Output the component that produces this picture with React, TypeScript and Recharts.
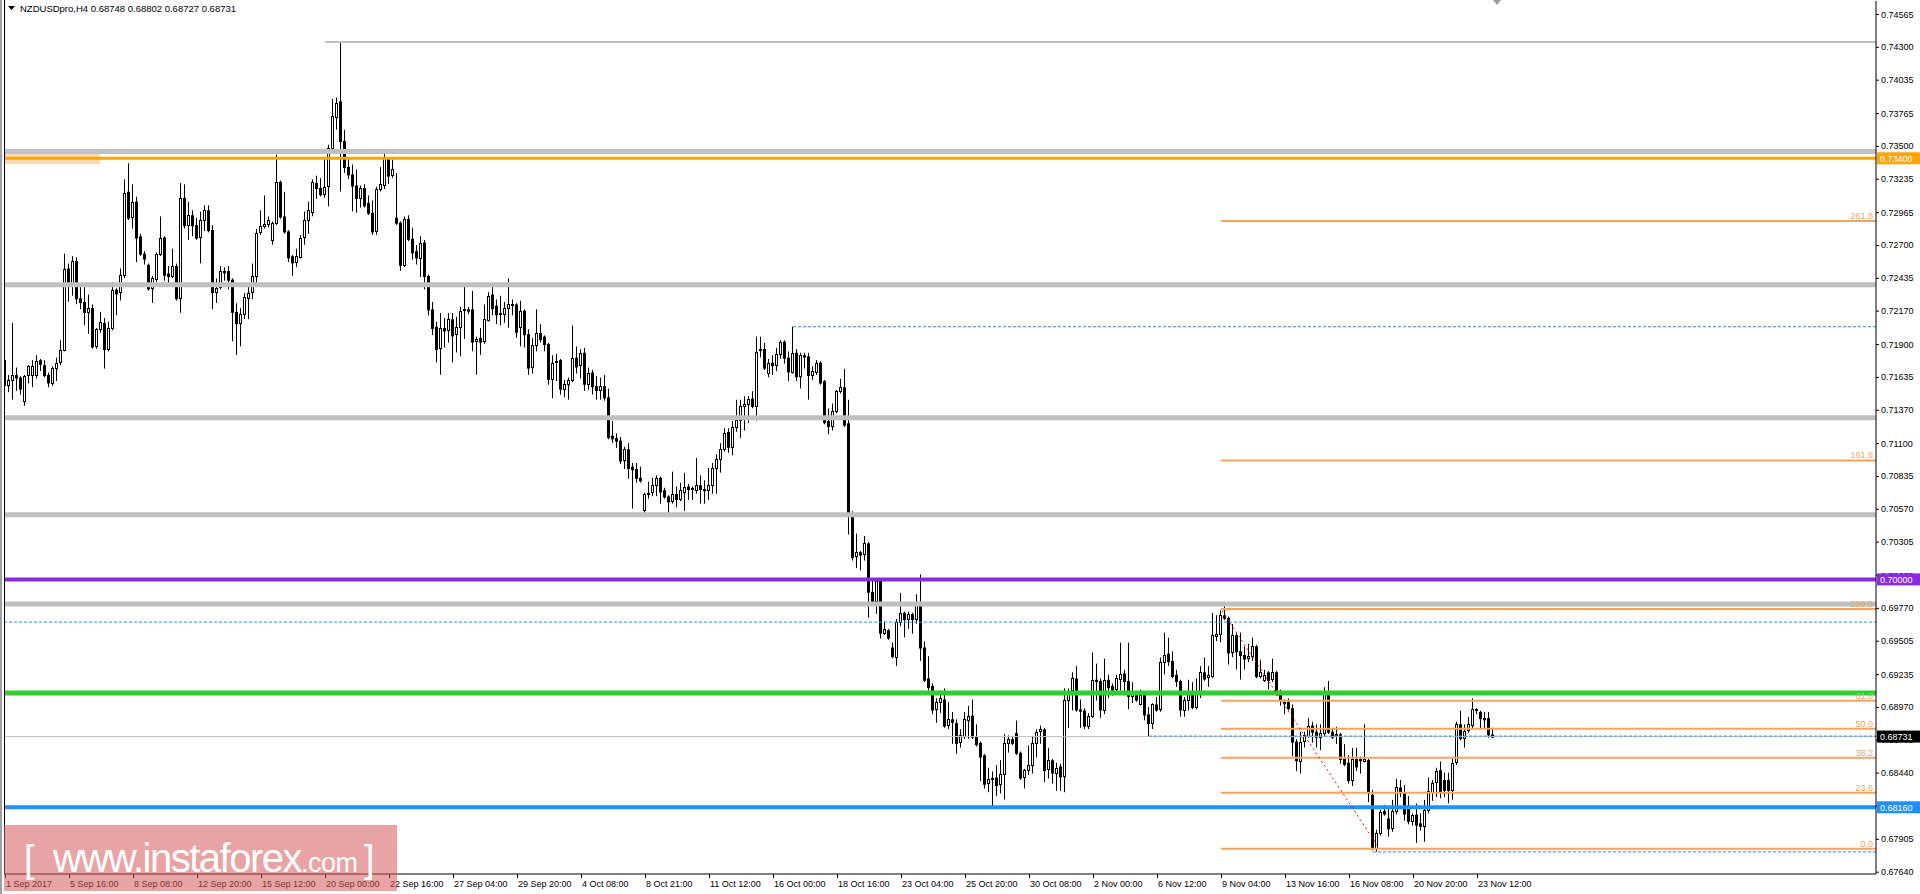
import React from "react";
import {
  Bar,
  ComposedChart,
  ReferenceArea,
  ReferenceLine,
  XAxis,
  YAxis,
} from "recharts";

const FONT = "'Liberation Sans', Arial, sans-serif";
const PLOT_B = 874;
const AXIS_X = 1876;

const symbolTitle = "NZDUSDpro,H4";
const lastQuote = ["0.68748", "0.68802", "0.68727", "0.68731"];

// H4 bars, [open, high, low, close]
const sepCandles = [
  [0.7177, 0.718, 0.715, 0.7157], [0.7157, 0.7165, 0.7152, 0.7161], [0.7161, 0.7207, 0.7146, 0.7165],
  [0.7165, 0.7171, 0.7153, 0.7163], [0.7163, 0.7164, 0.715, 0.7154], [0.7144, 0.7165, 0.7141, 0.7164],
  [0.7165, 0.7173, 0.7159, 0.7172], [0.7165, 0.7177, 0.7156, 0.7172], [0.7165, 0.7181, 0.7163, 0.7176],
  [0.7177, 0.7178, 0.7169, 0.7174], [0.7173, 0.7177, 0.7164, 0.7165], [0.7165, 0.7167, 0.7156, 0.7159],
  [0.7159, 0.7172, 0.7157, 0.7171], [0.7171, 0.7179, 0.7161, 0.7175], [0.7175, 0.7193, 0.7174, 0.7185],
  [0.7186, 0.7263, 0.7185, 0.7251], [0.7251, 0.7255, 0.7225, 0.7239], [0.7239, 0.7261, 0.723, 0.7257],
  [0.7257, 0.726, 0.7223, 0.7227], [0.7227, 0.7236, 0.7219, 0.7224], [0.7224, 0.7236, 0.7206, 0.7216],
  [0.7216, 0.723, 0.7199, 0.7219], [0.7219, 0.7222, 0.7187, 0.7188], [0.7188, 0.7203, 0.7187, 0.7202],
  [0.7202, 0.7216, 0.72, 0.7208], [0.7207, 0.7211, 0.7171, 0.7186], [0.7186, 0.7208, 0.7185, 0.7203],
  [0.7203, 0.724, 0.7202, 0.7234], [0.7234, 0.7235, 0.7214, 0.7231], [0.7232, 0.7251, 0.7226, 0.7246],
  [0.7246, 0.7323, 0.7244, 0.7312], [0.7313, 0.7336, 0.7291, 0.7292], [0.7293, 0.7319, 0.7284, 0.7305],
  [0.7305, 0.7309, 0.7257, 0.7276], [0.7277, 0.7279, 0.7262, 0.7263], [0.7263, 0.7265, 0.7255, 0.7259],
  [0.7254, 0.7255, 0.7234, 0.7235], [0.7235, 0.7245, 0.7224, 0.7243], [0.7243, 0.7264, 0.7241, 0.7263],
  [0.7263, 0.7293, 0.7262, 0.7276], [0.7276, 0.7277, 0.7242, 0.7246], [0.7247, 0.7253, 0.7238, 0.7245],
  [0.7245, 0.7267, 0.7244, 0.7253], [0.7253, 0.7255, 0.7226, 0.7227], [0.7227, 0.732, 0.7216, 0.7308],
  [0.7308, 0.7319, 0.7284, 0.7286], [0.7286, 0.7305, 0.7275, 0.7294], [0.7294, 0.7298, 0.7278, 0.7286],
  [0.7286, 0.7292, 0.7275, 0.7276], [0.7276, 0.7297, 0.7256, 0.729], [0.729, 0.7302, 0.7282, 0.7298],
  [0.7298, 0.7302, 0.7281, 0.7282], [0.7282, 0.7286, 0.7219, 0.7232], [0.7232, 0.7243, 0.7224, 0.7235],
  [0.7236, 0.7253, 0.7235, 0.7249], [0.7249, 0.7252, 0.7242, 0.7248], [0.7249, 0.7253, 0.7235, 0.7242],
  [0.7242, 0.7243, 0.7193, 0.7216], [0.7216, 0.7223, 0.7182, 0.7207], [0.7207, 0.7219, 0.7189, 0.7214],
  [0.7214, 0.7231, 0.7211, 0.7228], [0.7227, 0.7239, 0.7211, 0.7231], [0.7232, 0.7255, 0.7227, 0.7245],
  [0.7245, 0.7283, 0.724, 0.728], [0.728, 0.7298, 0.7279, 0.7285], [0.7285, 0.731, 0.7284, 0.7287],
  [0.7287, 0.7293, 0.7285, 0.729], [0.7274, 0.7289, 0.7271, 0.7288], [0.7288, 0.7343, 0.7287, 0.7321],
  [0.7321, 0.7322, 0.7292, 0.7293], [0.7293, 0.7313, 0.728, 0.7281], [0.7281, 0.7282, 0.7257, 0.726],
  [0.7261, 0.7262, 0.7246, 0.7256], [0.7256, 0.7267, 0.7253, 0.7261], [0.7261, 0.7278, 0.726, 0.7276],
  [0.7276, 0.7297, 0.7271, 0.729], [0.729, 0.7305, 0.728, 0.7298], [0.7297, 0.7323, 0.7294, 0.7321],
  [0.732, 0.7326, 0.7308, 0.7316], [0.7316, 0.7324, 0.731, 0.7311], [0.7311, 0.7341, 0.7309, 0.7317],
  [0.7317, 0.7351, 0.7302, 0.7348], [0.7348, 0.7388, 0.7345, 0.7374], [0.7374, 0.7389, 0.7364, 0.7385],
  [0.7386, 0.7434, 0.7314, 0.7354], [0.7354, 0.7363, 0.7329, 0.7333], [0.7333, 0.734, 0.7324, 0.7327],
  [0.7327, 0.7335, 0.7298, 0.7318], [0.7318, 0.7331, 0.7297, 0.7308], [0.7308, 0.7318, 0.7301, 0.7316],
  [0.7316, 0.7319, 0.7301, 0.7302], [0.7304, 0.731, 0.7295, 0.7296], [0.7296, 0.7306, 0.7279, 0.7281],
  [0.7281, 0.7317, 0.7279, 0.7315], [0.7315, 0.7333, 0.7314, 0.7319], [0.7318, 0.7344, 0.7316, 0.734],
  [0.734, 0.7341, 0.732, 0.7326], [0.7326, 0.7339, 0.7325, 0.7331], [0.7292, 0.7328, 0.7287, 0.7288],
  [0.7288, 0.7289, 0.725, 0.7254], [0.7254, 0.7293, 0.7253, 0.7291], [0.7291, 0.7294, 0.7274, 0.7275],
  [0.7275, 0.7284, 0.7259, 0.7264], [0.7265, 0.727, 0.7255, 0.726], [0.726, 0.7277, 0.7245, 0.7272],
  [0.7272, 0.7274, 0.7235, 0.7245], [0.7245, 0.7246, 0.7214, 0.7218], [0.7218, 0.7224, 0.7198, 0.7203],
  [0.7204, 0.7208, 0.7176, 0.7186], [0.7187, 0.7215, 0.7166, 0.7203], [0.7203, 0.7211, 0.7188, 0.7201],
  [0.7201, 0.7215, 0.7192, 0.721], [0.721, 0.7215, 0.7176, 0.7197], [0.7198, 0.7212, 0.7184, 0.7204],
  [0.7204, 0.722, 0.7181, 0.7217], [0.7217, 0.7238, 0.7195, 0.7218], [0.7218, 0.722, 0.7215, 0.7217],
  [0.7218, 0.7233, 0.7185, 0.7192], [0.7192, 0.7196, 0.7166, 0.7194], [0.7195, 0.7203, 0.7182, 0.7192],
  [0.7192, 0.7222, 0.7191, 0.721], [0.721, 0.7232, 0.7209, 0.7229], [0.723, 0.7238, 0.7214, 0.7219],
  [0.7221, 0.7226, 0.7207, 0.7214], [0.7214, 0.7229, 0.7206, 0.7215], [0.7214, 0.7224, 0.7208, 0.7219],
  [0.7219, 0.7243, 0.7204, 0.7222], [0.7221, 0.7226, 0.7214, 0.7222], [0.7222, 0.7223, 0.7196, 0.72],
];

const octCandles = [
  [0.7204, 0.7225, 0.7189, 0.7217], [0.7217, 0.7218, 0.7188, 0.7198], [0.7198, 0.7202, 0.7166, 0.7171],
  [0.7171, 0.7195, 0.7167, 0.7189], [0.7189, 0.7218, 0.7185, 0.7199], [0.7199, 0.7206, 0.7192, 0.7194],
  [0.7196, 0.7197, 0.7185, 0.719], [0.719, 0.7191, 0.7158, 0.7162], [0.7162, 0.7181, 0.7147, 0.7175],
  [0.7175, 0.7182, 0.7161, 0.7176], [0.7177, 0.7178, 0.715, 0.7154], [0.7154, 0.7161, 0.7148, 0.7158],
  [0.7158, 0.7163, 0.7146, 0.7161], [0.7161, 0.7205, 0.716, 0.7179], [0.7179, 0.7188, 0.7167, 0.7172],
  [0.7173, 0.7186, 0.7163, 0.7183], [0.7183, 0.7187, 0.7153, 0.7158], [0.7158, 0.7171, 0.7154, 0.7167],
  [0.7167, 0.7169, 0.715, 0.7156], [0.7156, 0.7164, 0.7146, 0.7153], [0.7153, 0.7163, 0.7146, 0.7156],
  [0.7156, 0.7165, 0.7145, 0.7147], [0.7147, 0.7154, 0.7114, 0.7115], [0.7116, 0.7128, 0.7111, 0.7114],
  [0.7114, 0.7118, 0.7107, 0.7112], [0.7112, 0.7115, 0.7094, 0.7096], [0.7096, 0.7107, 0.709, 0.7105],
  [0.7105, 0.711, 0.7082, 0.709], [0.7091, 0.7094, 0.7058, 0.7089], [0.7089, 0.7094, 0.7079, 0.7082],
  [0.7082, 0.7091, 0.7079, 0.708], [0.7056, 0.707, 0.7054, 0.7069], [0.7069, 0.7079, 0.7066, 0.707],
  [0.707, 0.7082, 0.7068, 0.7076], [0.7076, 0.7084, 0.7068, 0.7082], [0.7082, 0.7083, 0.7062, 0.7071],
  [0.7072, 0.7074, 0.7066, 0.7067], [0.7067, 0.7068, 0.7054, 0.7063], [0.7063, 0.7087, 0.7062, 0.7069],
  [0.7069, 0.7075, 0.7059, 0.7065], [0.7065, 0.7078, 0.7064, 0.7072], [0.7071, 0.7086, 0.7056, 0.7075],
  [0.7075, 0.7077, 0.7065, 0.7073], [0.7073, 0.7075, 0.7065, 0.7074], [0.7072, 0.7098, 0.707, 0.7076],
  [0.7076, 0.7084, 0.7062, 0.7073], [0.7073, 0.708, 0.7062, 0.7072], [0.7072, 0.709, 0.7065, 0.7076],
  [0.7076, 0.7094, 0.707, 0.709], [0.709, 0.7101, 0.707, 0.7097], [0.7097, 0.711, 0.7087, 0.7105],
  [0.7105, 0.7122, 0.7104, 0.7118], [0.7119, 0.7122, 0.7103, 0.7107], [0.7107, 0.7128, 0.7101, 0.7123],
  [0.7123, 0.7145, 0.712, 0.7129], [0.7129, 0.7145, 0.7115, 0.714], [0.714, 0.7148, 0.7121, 0.7142],
  [0.7142, 0.7148, 0.7127, 0.7146], [0.7146, 0.7152, 0.7139, 0.714], [0.714, 0.7196, 0.7129, 0.7184],
  [0.7185, 0.7196, 0.718, 0.7186], [0.7186, 0.7191, 0.717, 0.7171], [0.7167, 0.7178, 0.7164, 0.7175],
  [0.7175, 0.7181, 0.7166, 0.7173], [0.7173, 0.7187, 0.7169, 0.7182], [0.7182, 0.7193, 0.7179, 0.7192],
  [0.7192, 0.7193, 0.7175, 0.7179], [0.7179, 0.7184, 0.7161, 0.7168], [0.7168, 0.7204, 0.7167, 0.7183],
  [0.7183, 0.7186, 0.7161, 0.7164], [0.7164, 0.7183, 0.7155, 0.7181], [0.7181, 0.7183, 0.7171, 0.718],
  [0.718, 0.7183, 0.7146, 0.7165], [0.7165, 0.7172, 0.7162, 0.7168], [0.7168, 0.7177, 0.7166, 0.7175],
  [0.7175, 0.7176, 0.7158, 0.7159], [0.716, 0.7161, 0.7126, 0.7127], [0.7128, 0.7138, 0.7118, 0.7124],
  [0.7124, 0.7142, 0.7121, 0.7136], [0.7136, 0.7153, 0.7135, 0.7152], [0.7152, 0.7162, 0.7151, 0.7155],
  [0.7155, 0.717, 0.7124, 0.7125], [0.7126, 0.7145, 0.7037, 0.7052], [0.7052, 0.7055, 0.7016, 0.7018],
  [0.7019, 0.7037, 0.701, 0.7022], [0.7022, 0.7023, 0.7008, 0.702], [0.702, 0.7035, 0.7016, 0.7029],
  [0.7029, 0.703, 0.697, 0.699], [0.699, 0.6999, 0.6981, 0.6982], [0.6983, 0.7001, 0.6973, 0.6999],
  [0.6999, 0.7001, 0.6953, 0.6957], [0.6957, 0.6966, 0.6956, 0.696], [0.6959, 0.696, 0.6952, 0.6953],
  [0.6945, 0.6949, 0.6937, 0.6938], [0.6938, 0.6968, 0.6931, 0.6966], [0.6966, 0.6989, 0.6963, 0.6973],
  [0.6973, 0.6974, 0.6954, 0.6968], [0.6968, 0.6974, 0.6961, 0.6972], [0.6972, 0.6973, 0.6957, 0.6968],
  [0.6968, 0.6988, 0.6965, 0.6981], [0.6981, 0.7004, 0.6935, 0.6945], [0.6945, 0.695, 0.6918, 0.6919],
  [0.692, 0.6938, 0.6911, 0.6913], [0.6914, 0.6916, 0.6892, 0.6895], [0.6895, 0.6904, 0.6885, 0.6901],
  [0.6901, 0.691, 0.6893, 0.6904], [0.6903, 0.6912, 0.6881, 0.6882], [0.6882, 0.6901, 0.688, 0.6887],
  [0.6887, 0.6893, 0.6868, 0.6885], [0.6884, 0.6887, 0.686, 0.6868], [0.6868, 0.6879, 0.6865, 0.6874],
  [0.6873, 0.6893, 0.6872, 0.6887], [0.6887, 0.6898, 0.6872, 0.689], [0.689, 0.6903, 0.6872, 0.6873],
  [0.6873, 0.6883, 0.6866, 0.6867], [0.6868, 0.6869, 0.6838, 0.6857], [0.6858, 0.6859, 0.6832, 0.6835],
  [0.6836, 0.6848, 0.6829, 0.6839], [0.6839, 0.6845, 0.6817, 0.684], [0.684, 0.685, 0.6826, 0.6834],
  [0.6835, 0.6854, 0.6828, 0.6843], [0.6843, 0.6875, 0.6823, 0.6868], [0.6868, 0.6874, 0.6861, 0.6871],
  [0.6871, 0.6873, 0.6867, 0.6868], [0.6876, 0.6886, 0.6859, 0.686], [0.686, 0.6861, 0.6839, 0.684],
  [0.684, 0.6847, 0.6832, 0.6846], [0.6846, 0.6866, 0.6843, 0.685], [0.685, 0.6873, 0.6844, 0.6868],
  [0.6868, 0.6879, 0.6857, 0.6877], [0.6877, 0.6882, 0.6868, 0.6879], [0.6879, 0.688, 0.6837, 0.6846],
  [0.6847, 0.6864, 0.684, 0.6854], [0.6854, 0.6855, 0.6836, 0.6844], [0.6844, 0.6852, 0.683, 0.6848],
  [0.6849, 0.6851, 0.683, 0.6841], [0.6842, 0.6912, 0.6829, 0.6903],
];

const novCandles = [
  [0.6903, 0.6912, 0.6881, 0.691], [0.691, 0.6925, 0.6895, 0.692], [0.692, 0.693, 0.6894, 0.6895],
  [0.6895, 0.6903, 0.6881, 0.6894], [0.6894, 0.6896, 0.688, 0.6882], [0.6882, 0.6892, 0.688, 0.689],
  [0.689, 0.6941, 0.6889, 0.6919], [0.6919, 0.6932, 0.6903, 0.6918], [0.6918, 0.692, 0.6889, 0.6895],
  [0.6895, 0.6936, 0.6892, 0.6919], [0.6919, 0.6923, 0.6905, 0.6913], [0.6914, 0.6916, 0.6907, 0.6911],
  [0.6911, 0.6923, 0.6908, 0.692], [0.692, 0.6949, 0.6911, 0.6924], [0.6924, 0.6927, 0.6908, 0.6918],
  [0.6918, 0.6949, 0.6896, 0.6906], [0.6906, 0.6917, 0.6901, 0.6909], [0.6909, 0.691, 0.6902, 0.6903],
  [0.69, 0.6911, 0.6899, 0.6907], [0.6907, 0.6908, 0.6887, 0.6891], [0.6891, 0.6897, 0.6874, 0.6884],
  [0.6884, 0.69, 0.688, 0.6899], [0.6899, 0.6905, 0.6894, 0.6895], [0.6895, 0.6937, 0.6894, 0.6933],
  [0.6933, 0.6957, 0.6924, 0.6939], [0.694, 0.6953, 0.6931, 0.6934], [0.6934, 0.6942, 0.6921, 0.6922],
  [0.6923, 0.6927, 0.6914, 0.6918], [0.6918, 0.6919, 0.689, 0.6895], [0.6895, 0.6905, 0.689, 0.6903],
  [0.6903, 0.6919, 0.6895, 0.691], [0.691, 0.6917, 0.6896, 0.6897], [0.6897, 0.692, 0.6896, 0.691],
  [0.691, 0.693, 0.6905, 0.6925], [0.6925, 0.6937, 0.6919, 0.692], [0.6921, 0.693, 0.6914, 0.6923],
  [0.6922, 0.6973, 0.6921, 0.6955], [0.6954, 0.6971, 0.6951, 0.6956], [0.6956, 0.6975, 0.695, 0.6971],
  [0.6971, 0.6979, 0.6968, 0.6969], [0.6969, 0.697, 0.6932, 0.6941], [0.6941, 0.6964, 0.6938, 0.6955],
  [0.6955, 0.6957, 0.6928, 0.6942], [0.6942, 0.6957, 0.692, 0.6939], [0.6939, 0.6946, 0.6928, 0.6936],
  [0.6936, 0.6948, 0.6934, 0.6938], [0.6938, 0.6953, 0.6935, 0.6946], [0.6946, 0.6947, 0.6921, 0.6922],
  [0.6922, 0.6935, 0.6921, 0.6925], [0.6919, 0.6927, 0.6918, 0.6923], [0.6925, 0.6926, 0.6912, 0.6919],
  [0.6919, 0.6936, 0.6918, 0.6925], [0.6925, 0.6926, 0.6907, 0.6908], [0.6908, 0.6911, 0.6899, 0.6903],
  [0.6901, 0.6903, 0.6892, 0.69], [0.6901, 0.6904, 0.6895, 0.6896], [0.6896, 0.6899, 0.6858, 0.6869],
  [0.6869, 0.6871, 0.6846, 0.6854], [0.6854, 0.6877, 0.6844, 0.6869], [0.6869, 0.6877, 0.6865, 0.6874],
  [0.6874, 0.6888, 0.6873, 0.6882], [0.6882, 0.6885, 0.6869, 0.6877], [0.6877, 0.6883, 0.6865, 0.6873],
  [0.6873, 0.6883, 0.6863, 0.6876], [0.6876, 0.6913, 0.6874, 0.6908], [0.6908, 0.6918, 0.6876, 0.6877],
  [0.6877, 0.688, 0.6872, 0.6873], [0.6874, 0.6881, 0.6868, 0.6875], [0.6875, 0.6876, 0.6852, 0.6855],
  [0.6855, 0.6867, 0.685, 0.6851], [0.6852, 0.6858, 0.6836, 0.6838], [0.6838, 0.6864, 0.6834, 0.6855],
  [0.6855, 0.6864, 0.6846, 0.6849], [0.6855, 0.6857, 0.6844, 0.6854], [0.6853, 0.6883, 0.6853, 0.6855],
  [0.6854, 0.6855, 0.6821, 0.6828], [0.6826, 0.683, 0.6782, 0.6783], [0.6783, 0.6798, 0.6781, 0.6795],
  [0.6795, 0.6814, 0.6794, 0.6812], [0.6813, 0.6818, 0.681, 0.6811], [0.6807, 0.6816, 0.6793, 0.6799],
  [0.6799, 0.6822, 0.6797, 0.6813], [0.6813, 0.6839, 0.6811, 0.6832], [0.6832, 0.6838, 0.6825, 0.6828],
  [0.6828, 0.6834, 0.6806, 0.6811], [0.6815, 0.6825, 0.6803, 0.6805], [0.6805, 0.6811, 0.6802, 0.681],
  [0.681, 0.6819, 0.6788, 0.6802], [0.6803, 0.6811, 0.6798, 0.6801], [0.6801, 0.6822, 0.6789, 0.6814],
  [0.6814, 0.684, 0.6812, 0.6829], [0.6829, 0.6838, 0.6822, 0.6836], [0.6836, 0.6848, 0.6825, 0.6845],
  [0.6846, 0.6853, 0.6824, 0.6829], [0.6838, 0.6844, 0.6825, 0.683], [0.6838, 0.6844, 0.682, 0.683],
  [0.683, 0.6855, 0.6823, 0.6852], [0.6852, 0.6885, 0.6851, 0.6883], [0.6883, 0.6894, 0.6871, 0.6872],
  [0.6872, 0.6883, 0.6865, 0.6878], [0.6878, 0.6889, 0.6877, 0.6883], [0.6882, 0.6904, 0.688, 0.6895],
  [0.6894, 0.6896, 0.6892, 0.6895], [0.6893, 0.6894, 0.688, 0.6888], [0.6888, 0.6893, 0.688, 0.6887],
  [0.6888, 0.6893, 0.6873, 0.6875], [0.68748, 0.68802, 0.68727, 0.68731],
];

const timeLabels = [
  "1 Sep 2017", "5 Sep 16:00", "8 Sep 08:00", "12 Sep 20:00", "15 Sep 12:00", "20 Sep 00:00",
  "22 Sep 16:00", "27 Sep 04:00", "29 Sep 20:00", "4 Oct 08:00", "8 Oct 21:00", "11 Oct 12:00",
  "16 Oct 00:00", "18 Oct 16:00", "23 Oct 04:00", "25 Oct 20:00", "30 Oct 08:00", "2 Nov 00:00",
  "6 Nov 12:00", "9 Nov 04:00", "13 Nov 16:00", "16 Nov 08:00", "20 Nov 20:00", "23 Nov 12:00",
];
const barsPerLabel = 16;

const priceTicks = [
  0.74565, 0.743, 0.74035, 0.73765, 0.735, 0.73235, 0.72965, 0.727, 0.72435, 0.7217, 0.719,
  0.71635, 0.7137, 0.711, 0.70835, 0.7057, 0.70305, 0.70035, 0.6977, 0.69505, 0.69235, 0.6897,
  0.68705, 0.6844, 0.68175, 0.67905, 0.6764,
];

const priceRange = [0.676214, 0.7467];
const barRange = [-0.25, 467.75];

const silverLevels = [0.73454, 0.72378, 0.71305, 0.70522, 0.69801];
const orangeLevel = 0.734;
const purpleLevel = 0.7;
const greenLevel = 0.69083;
const blueLevel = 0.6816;
const bidPrice = 0.68731;
const topHigh = { from: 80, price: 0.74339 };
const dashedLevels = [
  { from: 197, price: 0.7204 },
  { from: -0.25, price: 0.69655 },
  { from: 286, price: 0.68735 },
  { from: 342, price: 0.678 },
];

const fibStart = 304;
const fibRatios = ["261.8", "161.8", "100.0", "61.8", "50.0", "38.2", "23.6", "0.0"];
const fibPrices = [0.72894, 0.7096, 0.69762, 0.6902, 0.68794, 0.6856, 0.68277, 0.67826];
const trendFrom = { x: 304.25, y: 0.69747 };
const trendTo = { x: 343.25, y: 0.67843 };
const oldLabelBox = { x1: -0.25, x2: 23.75, y1: 0.73354, y2: 0.73435 };

const rows = [...sepCandles, ...octCandles, ...novCandles].map(([o, h, l, c], i) => ({
  i,
  o,
  h,
  l,
  c,
  range: [l, h],
}));

const boxColors: Record<string, string> = {
  [orangeLevel.toFixed(5)]: "#FFA500",
  [purpleLevel.toFixed(5)]: "#8A2BE2",
  [bidPrice.toFixed(5)]: "#000000",
  [blueLevel.toFixed(5)]: "#1E90FF",
};

function Candle(props: any) {
  const { x, y, width, height, payload } = props;
  if (x == null || y == null || !payload) return null;
  const top = Math.min(y, y + height);
  const bottom = Math.max(y, y + height);
  const { o, h, l, c } = payload;
  const k = h > l ? (bottom - top) / (h - l) : 0;
  const cx = Math.floor(x + width / 2) + 0.5;
  const yO = top + (h - o) * k;
  const yC = top + (h - c) * k;
  const bodyTop = Math.min(yO, yC);
  const bodyH = Math.max(Math.abs(yC - yO), 1);
  return (
    <g>
      <line x1={cx} x2={cx} y1={top} y2={bottom + 1} stroke="#000" strokeWidth={1} />
      {c > o ? (
        <rect
          x={cx - 1}
          y={Math.round(bodyTop) + 0.5}
          width={2}
          height={Math.max(Math.round(bodyH), 1)}
          fill="#fff"
          stroke="#000"
          strokeWidth={1}
        />
      ) : (
        <rect x={cx - 1.5} y={bodyTop} width={3} height={bodyH + 1} fill="#000" />
      )}
    </g>
  );
}

function TimeTick(props: any) {
  const { x, payload } = props;
  const label = timeLabels[Math.round(payload.value / barsPerLabel)] ?? "";
  return (
    <g>
      <line x1={x + 0.5} x2={x + 0.5} y1={PLOT_B} y2={PLOT_B + 4} stroke="#000" />
      <text x={x + 1} y={PLOT_B + 13} fontSize={9} fontFamily={FONT} fill="#000">
        {label}
      </text>
    </g>
  );
}

function PriceTick(props: any) {
  const { y, payload } = props;
  const text = Number(payload.value).toFixed(5);
  const box = boxColors[text];
  if (box) {
    return (
      <g>
        <rect x={AXIS_X + 1} y={y - 6} width={43} height={12} fill={box} />
        <text x={AXIS_X + 4} y={y + 3.5} fontSize={9} fontFamily={FONT} fill="#fff">
          {text}
        </text>
      </g>
    );
  }
  return (
    <g>
      <line x1={AXIS_X} x2={AXIS_X + 3} y1={y + 0.5} y2={y + 0.5} stroke="#000" />
      <text x={AXIS_X + 5} y={y + 3.5} fontSize={9} fontFamily={FONT} fill="#000">
        {text}
      </text>
    </g>
  );
}

function fibLabel(ratio: string) {
  return (p: any) => {
    const vb = p?.viewBox;
    if (!vb) return null;
    return (
      <text
        x={vb.x + vb.width - 3}
        y={vb.y - 2}
        textAnchor="end"
        fontSize={9}
        fontFamily={FONT}
        fill="#F4A460"
      >
        {ratio}
      </text>
    );
  };
}

export default function App() {
  const timeTicks = timeLabels.map((_, k) => k * barsPerLabel);
  const axisTicks = [...priceTicks, orangeLevel, purpleLevel, blueLevel, bidPrice];

  return (
    <div
      style={{
        position: "absolute",
        left: 0,
        top: 0,
        width: 1920,
        height: 894,
        background: "#fff",
        overflow: "hidden",
      }}
    >
      <ComposedChart
        width={1920}
        height={894}
        data={rows}
        margin={{ top: 1, right: 0, left: 4, bottom: 0 }}
      >
        <XAxis
          type="number"
          dataKey="i"
          domain={barRange}
          allowDataOverflow
          ticks={timeTicks}
          interval={0}
          height={20}
          axisLine={{ stroke: "#000" }}
          tickLine={false}
          tick={<TimeTick />}
        />
        <YAxis
          orientation="right"
          type="number"
          domain={priceRange}
          allowDataOverflow
          ticks={axisTicks}
          interval={0}
          width={44}
          axisLine={{ stroke: "#000" }}
          tickLine={false}
          tick={<PriceTick />}
        />

        <ReferenceArea {...oldLabelBox} fill="#FDD9B5" fillOpacity={1} stroke="none" />

        {silverLevels.map((p) => (
          <ReferenceLine key={`s${p}`} y={p} stroke="#C0C0C0" strokeWidth={5} />
        ))}
        <ReferenceLine
          segment={[
            { x: topHigh.from, y: topHigh.price },
            { x: barRange[1], y: topHigh.price },
          ]}
          stroke="#C0C0C0"
          strokeWidth={2}
        />
        <ReferenceLine y={orangeLevel} stroke="#FFA500" strokeWidth={3} />
        <ReferenceLine y={purpleLevel} stroke="#8A2BE2" strokeWidth={4} />
        <ReferenceLine y={greenLevel} stroke="#32CD32" strokeWidth={5} />
        <ReferenceLine y={blueLevel} stroke="#1E90FF" strokeWidth={4} />
        <ReferenceLine y={bidPrice} stroke="#C0C0C0" strokeWidth={1} />

        {dashedLevels.map((d) => (
          <ReferenceLine
            key={`d${d.price}`}
            segment={[
              { x: d.from, y: d.price },
              { x: barRange[1], y: d.price },
            ]}
            stroke="#1E90FF"
            strokeWidth={1}
            strokeDasharray="3 2"
          />
        ))}

        {fibPrices.map((p, k) => (
          <ReferenceLine
            key={`f${k}`}
            segment={[
              { x: fibStart, y: p },
              { x: barRange[1], y: p },
            ]}
            stroke="#F4A460"
            strokeWidth={2}
            label={fibLabel(fibRatios[k])}
          />
        ))}

        <Bar
          dataKey="range"
          barSize={3}
          isAnimationActive={false}
          shape={(p: any) => <Candle {...p} />}
        />

        <ReferenceLine
          segment={[trendFrom, trendTo]}
          stroke="#FF0000"
          strokeWidth={1}
          strokeDasharray="2 3"
        />
      </ComposedChart>

      <svg
        width={1920}
        height={894}
        style={{ position: "absolute", left: 0, top: 0, pointerEvents: "none" }}
      >
        <rect x={0} y={0} width={2} height={894} fill="#A0A0A0" />
        <line x1={4.5} x2={4.5} y1={0} y2={PLOT_B} stroke="#000" />
        <polygon points="8,6 15,6 11.5,10" fill="#000" />
        <text x={20} y={12} fontSize={9.5} fontFamily={FONT} fill="#000">
          {symbolTitle + "  " + lastQuote.join(" ")}
        </text>
        <polygon points="1493,0 1501,0 1497,5" fill="#A0A0A0" />

        <rect x={4} y={825} width={393} height={66} fill="rgb(214,90,90)" fillOpacity={0.55} />
        <text x={24} y={872} fontSize={38} fontFamily={FONT} fill="#fff">
          [
        </text>
        <text x={53} y={872} fontSize={40} letterSpacing={-1.5} fontFamily={FONT} fill="#fff">
          www.instaforex
          <tspan fontSize={27} letterSpacing={-0.5}>
            .com
          </tspan>
        </text>
        <text x={364} y={872} fontSize={38} fontFamily={FONT} fill="#fff">
          ]
        </text>
      </svg>
    </div>
  );
}
